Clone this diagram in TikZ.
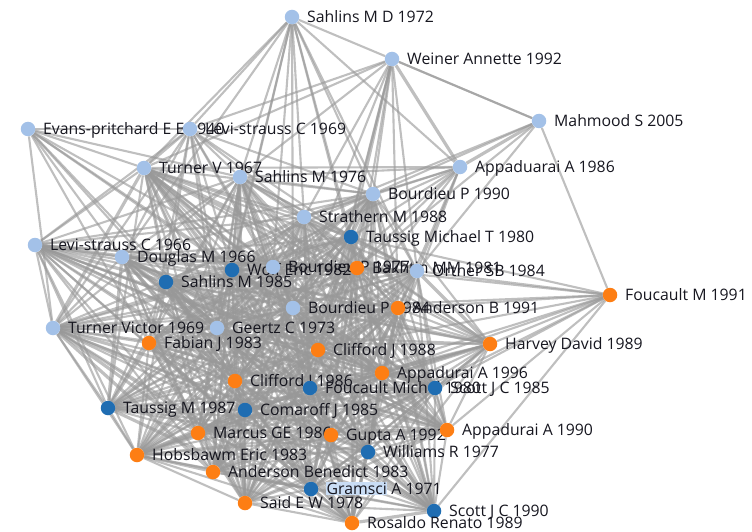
\documentclass[tikz,border=0pt]{standalone}
\usepackage{fontspec}
\setmainfont{Open Sans}
\usetikzlibrary{backgrounds}
\definecolor{lightb}{HTML}{A3C1E8}
\definecolor{darkb}{HTML}{1F6DB2}
\definecolor{orng}{HTML}{FD7E14}
\definecolor{edgegray}{HTML}{989898}
\definecolor{labelink}{HTML}{16161F}
\definecolor{selbg}{HTML}{C9DDF5}
\tikzset{
  dot/.style={circle,draw=none,minimum size=14.5pt,inner sep=0pt},
  lbl/.style={anchor=west,inner sep=0pt,text height=11pt,text depth=0pt,
    font=\fontsize{15.8}{17}\selectfont,text=labelink},
  edge/.style={draw=edgegray,line width=2.1pt,opacity=0.62},
  heavy/.style={draw=edgegray,line width=3.2pt,opacity=0.62},
}
% paper node: name, x, y, colour, label
\newcommand\pnode[5]{%
  \node[dot,fill=#4] (#1) at (#2,#3) {};
  \node[lbl] (#1-l) at (#2+15,#3) {#5};}
\begin{document}
\begin{tikzpicture}[x=1pt,y=-1pt]
\useasboundingbox (0,0) rectangle (752,532);
% citation nodes
\pnode{sd72}{292}{17}{lightb}{Sahlins M D 1972}
\pnode{wa92}{392}{59}{lightb}{Weiner Annette 1992}
\pnode{ms05}{539}{121}{lightb}{Mahmood S 2005}
\pnode{ep40}{28}{129}{lightb}{Evans-pritchard E E 1940}
\pnode{ls69}{190}{129}{lightb}{Levi-strauss C 1969}
\pnode{tv67}{144}{168}{lightb}{Turner V 1967}
\pnode{sm76}{240}{177}{lightb}{Sahlins M 1976}
\pnode{aa86}{460}{167}{lightb}{Appaduarai A 1986}
\pnode{bp90}{373}{194}{lightb}{Bourdieu P 1990}
\pnode{sm88}{304}{217}{lightb}{Strathern M 1988}
\pnode{tm80}{351}{237}{darkb}{Taussig Michael T 1980}
\pnode{ls66}{35}{245}{lightb}{Levi-strauss C 1966}
\pnode{dm66}{122}{257}{lightb}{Douglas M 1966}
\pnode{we82}{232}{270}{darkb}{Wolf Eric 1982}
\pnode{bp77}{273}{267}{lightb}{Bourdieu P 1977}
\pnode{bk81}{357}{268}{orng}{Bakhtin MM 1981}
\pnode{os84}{417}{271}{lightb}{Ortner SB 1984}
\pnode{sm85}{166}{282}{darkb}{Sahlins M 1985}
\pnode{fm91}{610}{295}{orng}{Foucault M 1991}
\pnode{bp84}{293}{308}{lightb}{Bourdieu P 1984}
\pnode{ab91}{398}{308}{orng}{Anderson B 1991}
\pnode{tv69}{53}{328}{lightb}{Turner Victor 1969}
\pnode{gc73}{217}{328}{lightb}{Geertz C 1973}
\pnode{fj83}{149}{343}{orng}{Fabian J 1983}
\pnode{cj88}{318}{350}{orng}{Clifford J 1988}
\pnode{hd89}{490}{344}{orng}{Harvey David 1989}
\pnode{ap96}{382}{373}{orng}{Appadurai A 1996}
\pnode{cj86}{235}{381}{orng}{Clifford J 1986}
\pnode{fm80}{310}{388}{darkb}{Foucault Michel 1980}
\pnode{sj85}{435}{388}{darkb}{Scott J C 1985}
\pnode{tm87}{108}{408}{darkb}{Taussig M 1987}
\pnode{cj85}{245}{410}{darkb}{Comaroff J 1985}
\pnode{mg86}{198}{433}{orng}{Marcus GE 1986}
\pnode{gu92}{331}{435}{orng}{Gupta A 1992}
\pnode{ap90}{447}{430}{orng}{Appadurai A 1990}
\pnode{wr77}{368}{452}{darkb}{Williams R 1977}
\pnode{he83}{137}{455}{orng}{Hobsbawm Eric 1983}
\pnode{ab83}{213}{472}{orng}{Anderson Benedict 1983}
\pnode{ga71}{311}{489}{darkb}{{\setlength\fboxsep{0.5pt}\colorbox{selbg}{Gramsci}} A 1971}
\pnode{se78}{245}{503}{orng}{Said E W 1978}
\pnode{sj90}{434}{511}{darkb}{Scott J C 1990}
\pnode{rr89}{352}{523}{orng}{Rosaldo Renato 1989}
% co-citation links
\begin{scope}[on background layer]
\def\corelist{tv67,sm76,bp90,sm88,tm80,ls66,dm66,we82,bp77,bk81,os84,sm85,bp84,ab91,tv69,gc73,fj83,cj88,hd89,ap96,cj86,fm80,sj85,tm87,cj85,mg86,gu92,ap90,wr77,he83,ab83,ga71,se78,sj90,rr89}
\foreach \a [count=\i] in \corelist {
  \foreach \b [count=\j] in \corelist {
    \ifnum\j>\i
      \pgfmathtruncatemacro\r{mod(\i*17+\j*31+\i*\j*7,97)}
      \ifnum\r<10
        \draw[heavy] (\a) -- (\b);
      \else\ifnum\r<78
        \draw[edge] (\a) -- (\b);
      \fi\fi
    \fi
  }
}
\foreach \b in {ls69,dm66,tv67,wa92,sm76,sm88,bp77,we82,bp84,gc73,tm80,bp90,os84,aa86,bk81}
  \draw[edge] (sd72) -- (\b);
\foreach \b in {ms05,ls69,sm76,tv67,bp90,sm88,tm80,os84,bk81,bp84,ab91,fm80,cj88}
  \draw[edge] (wa92) -- (\b);
\draw[heavy] (wa92) -- (aa86);
\foreach \b in {wa92,os84,bk81,sm88,fm91,bp90}
  \draw[edge] (ms05) -- (\b);
\draw[heavy] (ms05) -- (aa86);
\foreach \b in {bp90,sm88,tm80,os84,bk81,ab91,bp84,ap96,cj88,sm76,tv67,we82}
  \draw[edge] (aa86) -- (\b);
\foreach \b in {ls69,tv67,dm66,sm85,gc73,we82,bp77,sm76,tv69,fj83,bp84}
  \draw[edge] (ep40) -- (\b);
\foreach \b in {tv67,sm76,dm66,ls66,we82,bp77,gc73,sm85,bp84,sm88,bp90,tv69,fj83,cj86,tm80}
  \draw[edge] (ls69) -- (\b);
\foreach \b in {os84,ab91,bk81,bp84,hd89,ap96,sj85,ap90,gu92,cj88,fm80,tm80,sj90}
  \draw[edge] (fm91) -- (\b);
\end{scope}
\end{tikzpicture}
\end{document}
